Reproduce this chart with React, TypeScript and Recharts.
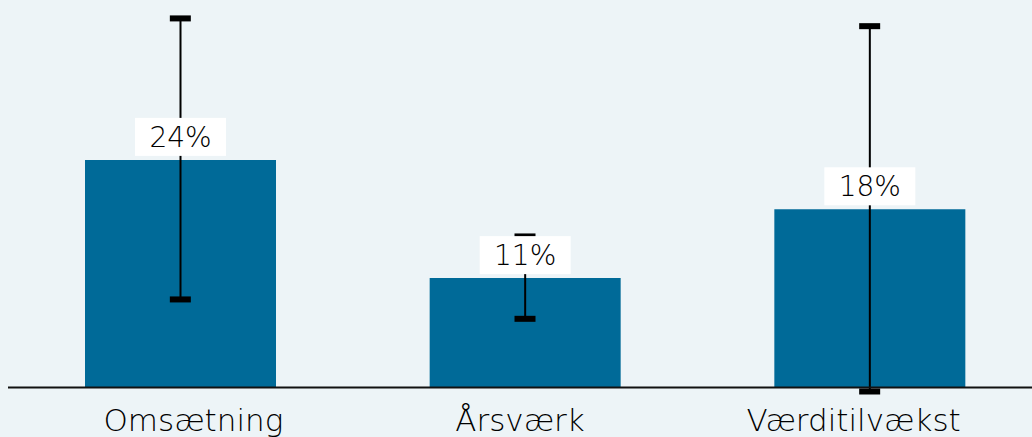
import { Bar, ComposedChart, ErrorBar, LabelList, Line, ReferenceLine, XAxis, YAxis } from "recharts";

const categories = ["Omsætning", "Årsværk", "Værditilvækst"];
const growth = [23.5, 11.3, 18.4];
const errLow = [14.4, 4.2, 18.8];
const errHigh = [14.6, 4.3, 18.9];

const data = categories.map((name, i) => ({
  name,
  growth: growth[i],
  err: [errLow[i], errHigh[i]],
  upper: growth[i] + errHigh[i],
  lower: growth[i] - errLow[i],
}));

const BAR = "#006a98";
const BG = "#edf4f7";
const FONT = "'DejaVu Sans', sans-serif";
// the source's category labels sit slightly off the bar centres
const TICK_SHIFT = [13, -5, -16];

document.body.style.margin = "0";
document.body.style.background = BG;
document.body.style.overflow = "hidden";

function CategoryTick({ x, y, payload, index }: any) {
  return (
    <text
      x={x + (TICK_SHIFT[index] ?? 0)}
      y={y}
      dy={24}
      textAnchor="middle"
      fontFamily={FONT}
      fontWeight={200}
      fontSize={31}
      fill="#000"
    >
      {payload.value}
    </text>
  );
}

function ValueLabel(props: any) {
  const vb = props.viewBox ?? props;
  const cx = vb.x + vb.width / 2;
  const top = vb.y;
  const w = 91;
  const h = 38;
  return (
    <g>
      <rect x={cx - w / 2} y={top - 4 - h} width={w} height={h} fill="#fff" />
      <text
        x={cx}
        y={top - 4 - h / 2}
        dy={10}
        textAnchor="middle"
        fontFamily={FONT}
        fontWeight={200}
        fontSize={28}
        fill="#000"
      >
        {Math.round(Number(props.value))}%
      </text>
    </g>
  );
}

// thick caps drawn as dots so they can be heavier than the whisker line
function Cap({ cx, cy, index }: any) {
  if (cx == null || cy == null) return <g key={index} />;
  return <rect key={index} x={cx - 10.5} y={cy - 3} width={21} height={6} fill="#000" />;
}

export default function App() {
  return (
    <div style={{ position: "absolute", left: 0, top: 0, width: 1032, height: 437, overflow: "hidden", background: BG }}>
      <ComposedChart
        width={1042}
        height={437}
        data={data}
        margin={{ top: 0, right: 0, bottom: 0, left: 8 }}
        barCategoryGap={0}
      >
        <XAxis
          dataKey="name"
          axisLine={false}
          tickLine={false}
          tickSize={0}
          tickMargin={0}
          height={30}
          interval={0}
          tick={<CategoryTick />}
        />
        <YAxis hide domain={[-2, 40]} />
        <Bar dataKey="growth" fill={BAR} barSize={191} isAnimationActive={false}>
          <ErrorBar dataKey="err" width={0} stroke="#000" strokeWidth={2} direction="y" />
          <LabelList dataKey="growth" content={<ValueLabel />} />
        </Bar>
        <Line dataKey="upper" stroke="none" dot={<Cap />} activeDot={false} isAnimationActive={false} />
        <Line dataKey="lower" stroke="none" dot={<Cap />} activeDot={false} isAnimationActive={false} />
        <ReferenceLine y={0} stroke="#111" strokeWidth={2} />
      </ComposedChart>
    </div>
  );
}
